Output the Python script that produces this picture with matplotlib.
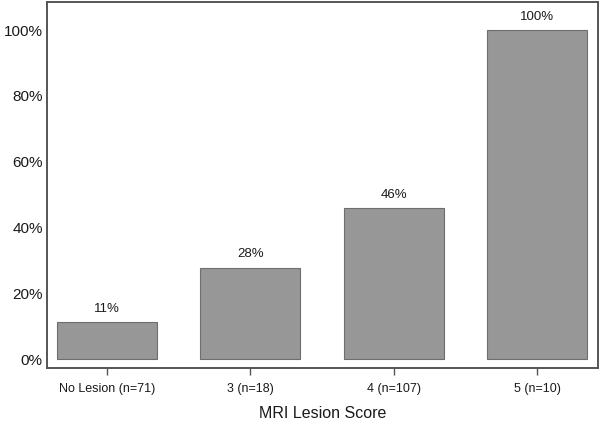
import matplotlib
matplotlib.use('Agg')
import matplotlib.pyplot as plt
import numpy as np

plt.rcParams['font.family'] = ['Liberation Sans', 'DejaVu Sans']

# data
categories = ['No Lesion (n=71)', '3 (n=18)', '4 (n=107)', '5 (n=10)']
values = [11.3, 27.8, 45.8, 100.0]
bar_labels = ['11%', '28%', '46%', '100%']
yticks = [0, 20, 40, 60, 80, 100]

fig = plt.figure(figsize=(6, 4.25), dpi=100)
ax = fig.add_axes([0.078, 0.134, 0.919, 0.861])

x = np.arange(len(categories))
ax.bar(x, values, width=0.70, color='#979797', edgecolor='#6e6e6e', linewidth=0.8)

for xi, v, lab in zip(x, values, bar_labels):
    ax.text(xi, v + 2.2, lab, ha='center', va='bottom', fontsize=9.5, color='#1a1a1a')

ax.set_xlim(-0.418, 3.425)
ax.set_ylim(-2.7, 108.5)
ax.set_xticks(x)
ax.set_xticklabels(categories, fontsize=9, color='#1a1a1a')
ax.set_yticks(yticks)
ax.set_yticklabels([f'{t}%' for t in yticks], fontsize=11, color='#1a1a1a')
ax.tick_params(axis='y', length=0, pad=3)
ax.tick_params(axis='x', length=5, width=1, color='#555555', pad=6)
ax.set_xlabel('MRI Lesion Score', fontsize=11.5, color='#1a1a1a', labelpad=8)

for sp in ax.spines.values():
    sp.set_color('#555555')
    sp.set_linewidth(1.4)

fig.savefig('out.png', dpi=100)
